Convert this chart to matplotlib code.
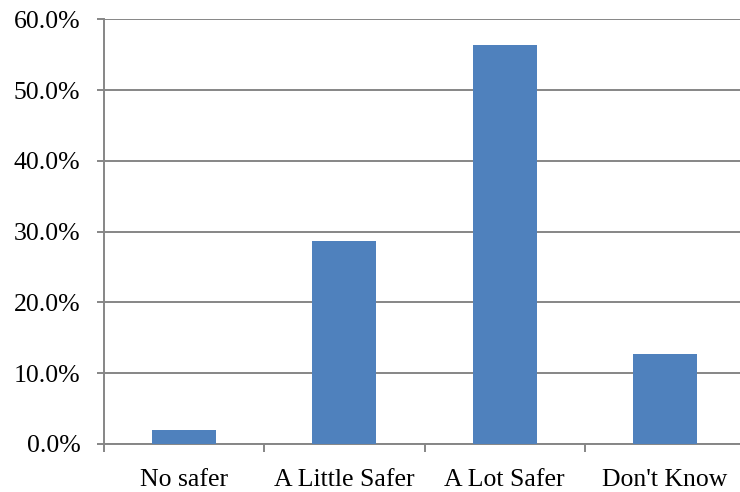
import matplotlib
matplotlib.use("Agg")
import matplotlib.pyplot as plt
from matplotlib.ticker import FuncFormatter, MultipleLocator, FixedLocator

categories = ["No safer", "A Little Safer", "A Lot Safer", "Don't Know"]
values = [2.0, 28.7, 56.4, 12.7]

W, H = 740, 492
fig = plt.figure(figsize=(W / 100, H / 100), dpi=100)
left, right, bottom, top = 104, 745, 444, 19.3
ax = fig.add_axes([left / W, 1 - bottom / H, (right - left) / W, (bottom - top) / H])

x = range(len(categories))
ax.bar(x, values, width=0.4, color="#4F81BD", zorder=3)

ax.set_xlim(-0.5, len(categories) - 0.5)
ax.set_ylim(0, 60)

grid_color = "#868686"
lw = 1.4
ax.yaxis.set_major_locator(MultipleLocator(10))
ax.yaxis.set_major_formatter(FuncFormatter(lambda v, p: f"{v:.1f}%"))
ax.grid(axis="y", color=grid_color, linewidth=lw, zorder=0)
ax.set_axisbelow(True)

ax.set_xticks(list(x))
ax.set_xticklabels(categories)
ax.xaxis.set_minor_locator(FixedLocator([i - 0.5 for i in range(len(categories) + 1)]))
ax.tick_params(axis="x", which="major", length=0, pad=18)
ax.tick_params(axis="x", which="minor", length=6, width=lw, color=grid_color, direction="out")
ax.tick_params(axis="y", length=5, width=lw, color=grid_color, direction="out", pad=12)

for lab in ax.get_xticklabels() + ax.get_yticklabels():
    lab.set_fontfamily("Liberation Serif")
    lab.set_fontsize(18.5)
    lab.set_color("black")

for s in ["top", "right"]:
    ax.spines[s].set_visible(False)
for s in ["left", "bottom"]:
    ax.spines[s].set_color(grid_color)
    ax.spines[s].set_linewidth(lw)

fig.savefig("out.png", dpi=100)
